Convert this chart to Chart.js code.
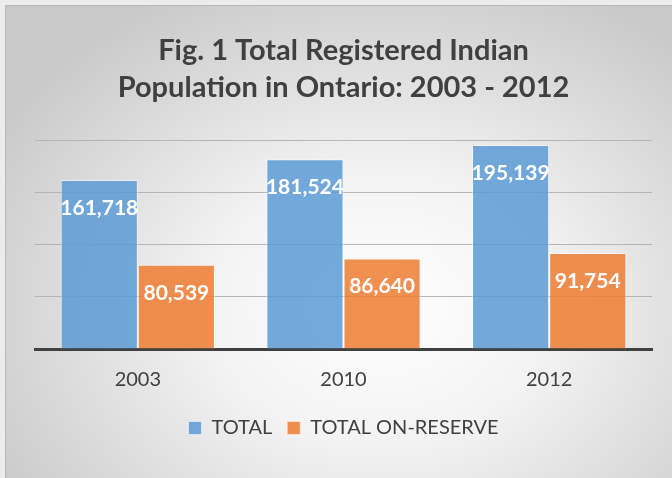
<!DOCTYPE html>
<html>
<head>
<meta charset="utf-8">
<script src="https://cdn.jsdelivr.net/npm/chart.js@4"></script>
<style>
  html, body { margin: 0; padding: 0; width: 672px; height: 478px; overflow: hidden; background: #ececec; }
  #frame {
    position: absolute; left: 5px; top: 5px; width: 720px; height: 520px;
    border: 1px solid #b8b8b8;
    background: radial-gradient(ellipse 62% 68% at 52% 58%, #ffffff 0%, #f3f3f3 38%, #c9c9c9 100%);
  }
  #wrap { position: absolute; left: 0; top: 0; width: 672px; height: 478px; }
</style>
</head>
<body>
<div id="frame"></div>
<div id="wrap"><canvas id="mychart"></canvas></div>
<script>
const years = ['2003', '2010', '2012'];
const totalPop = [161718, 181524, 195139];
const onReserve = [80539, 86640, 91754];
const seriesNames = ['TOTAL', 'TOTAL ON-RESERVE'];

const FONT = 'Lato, "Open Sans", sans-serif';

// white value labels just inside the top of each bar
const barLabels = {
    id: 'barLabels',
    afterDatasetsDraw(chart) {
        const c = chart.ctx;
        c.save();
        c.fillStyle = '#ffffff';
        c.font = 'bold 21px ' + FONT;
        c.textAlign = 'center';
        c.textBaseline = 'middle';
        chart.data.datasets.forEach((ds, i) => {
            chart.getDatasetMeta(i).data.forEach((bar, j) => {
                c.fillText(ds.data[j].toLocaleString('en-US'), bar.x, bar.y + 28);
            });
        });
        c.restore();
    }
};

const ctx = document.getElementById('mychart');

new Chart(ctx, {
    type: 'bar',
    data: {
        labels: years,
        datasets: [{
            label: seriesNames[0],
            data: totalPop,
            backgroundColor: 'rgba(91,155,213,0.85)',
            borderColor: 'rgba(255,255,255,0.5)',
            borderWidth: 1
        }, {
            label: seriesNames[1],
            data: onReserve,
            backgroundColor: 'rgba(237,125,49,0.85)',
            borderColor: 'rgba(255,255,255,0.5)',
            borderWidth: 1
        }]
    },
    options: {
        responsive: true,
        maintainAspectRatio: false,
        animation: false,
        layout: { padding: { left: 35, right: 20, top: 5, bottom: 30 } },
        datasets: { bar: { categoryPercentage: 0.75, barPercentage: 1.0 } },
        scales: {
            x: {
                grid: { display: false },
                border: { color: '#404040', width: 3 },
                ticks: { color: '#404040', font: { family: FONT, size: 20 }, padding: 11 }
            },
            y: {
                min: 0,
                max: 200000,
                ticks: { display: false, stepSize: 50000 },
                border: { display: false },
                grid: { color: '#b5b5b5', lineWidth: 1, drawTicks: false }
            }
        },
        plugins: {
            title: {
                display: true,
                text: ['Fig. 1 Total Registered Indian', 'Population in Ontario: 2003 - 2012'],
                color: '#404040',
                font: { family: FONT, size: 29, weight: 'bold', lineHeight: 1.276 },
                padding: { top: 27, bottom: 34 }
            },
            legend: {
                position: 'bottom',
                labels: {
                    color: '#404040',
                    font: { family: FONT, size: 20 },
                    boxWidth: 13,
                    boxHeight: 13,
                    padding: 15
                }
            },
            tooltip: { enabled: false }
        }
    },
    plugins: [barLabels]
});
</script>
</body>
</html>
